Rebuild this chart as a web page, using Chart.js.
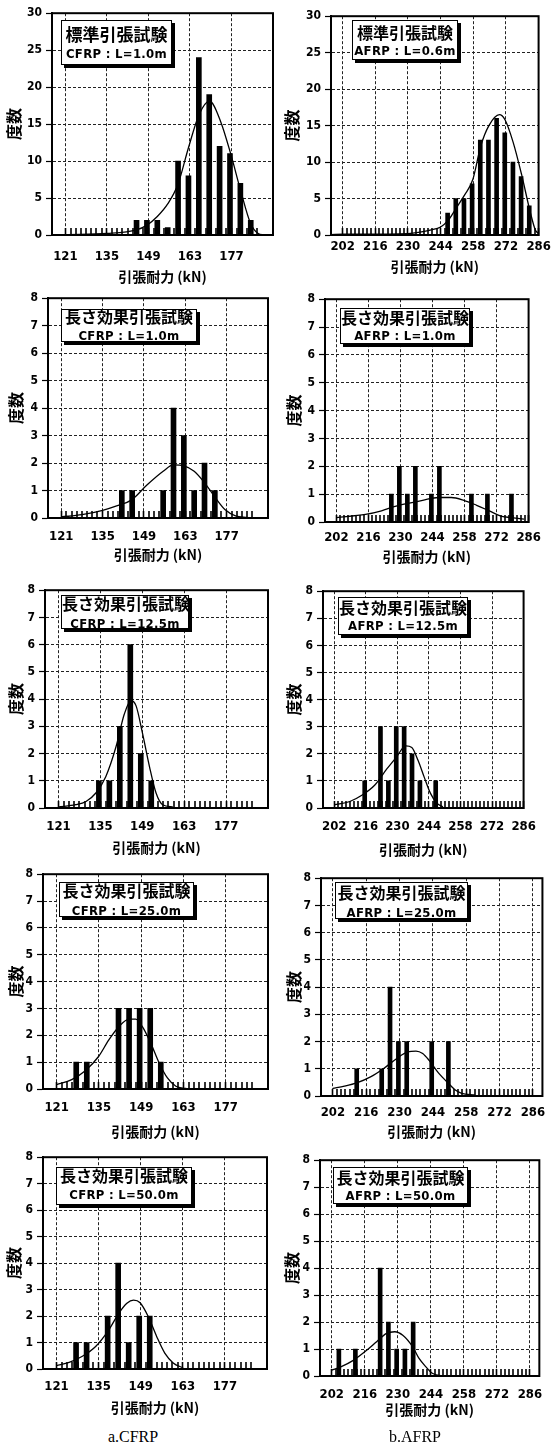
<!DOCTYPE html>
<html lang="ja">
<head>
<meta charset="utf-8">
<title>引張耐力の度数分布</title>
<script src="https://cdn.jsdelivr.net/npm/chart.js@4.4.1/dist/chart.umd.min.js"></script>
<style>
  html, body { margin: 0; padding: 0; background: #fff; }
  #page { position: relative; width: 556px; height: 1447px; overflow: hidden; }
  #page canvas { position: absolute; }
  .legend-box {
    position: absolute; background: #fff; border: 1.5px solid #000;
    box-shadow: 3px 3px 0 #000; box-sizing: border-box;
  }
  .legend-box div {
    position: absolute; left: 0; right: 0; text-align: center;
    transform: translateY(-50%); white-space: nowrap; color: #000;
  }
  .legend-box .l1 { font-family: 'Noto Sans CJK JP', sans-serif; font-weight: 700; line-height: 1.1; }
  .legend-box .l2 { font-family: 'Liberation Sans Narrow', 'DejaVu Sans Condensed', 'Liberation Sans', sans-serif; font-weight: 700; font-size: 13px; letter-spacing: 0.3px; line-height: 1.1; }
  .caption { position: absolute; font-family: 'Liberation Serif', 'DejaVu Serif', serif; font-size: 16px; transform: translate(-50%, -50%); }
</style>
</head>
<body>
<div id="page"></div>
<script>
// ETICHETTE ASSI X
const cfrpTickLabels = [121, 135, 149, 163, 177];
const afrpTickLabels = [202, 216, 230, 244, 258, 272, 286];
// trattini sull'asse x (ogni mezza classe)
const cfrpStubRange = [121, 187];
const afrpStubRange = [202, 285];
const stubStep = 1.75;

// 1) 標準引張試験 CFRP L=1.0m
const p1BinX = [145, 148.5, 152, 155.5, 159, 162.5, 166, 169.5, 173, 176.5, 180, 183.5];
const p1Count = [2, 2, 2, 1, 10, 8, 24, 19, 12, 11, 7, 2];
const p1CurveX = [117, 121, 135, 145, 148.4, 152, 155.5, 159, 162.5, 166.1, 169.6, 173.3, 176.8, 180.1, 183.4, 186, 188];
const p1CurveY = [0, 0.05, 0.2, 0.7, 1.3, 2.5, 4.2, 6.9, 11.8, 16.3, 18.1, 15.4, 10.9, 6, 1.6, 0.2, 0];

// 2) 標準引張試験 AFRP L=0.6m
const p2BinX = [247, 250.5, 254, 257.5, 261, 264.5, 268, 271.5, 275, 278.5, 282];
const p2Count = [3, 5, 5, 7, 13, 13, 16, 14, 10, 8, 4];
const p2CurveX = [197, 202, 230, 240, 244, 247.2, 250.9, 254.3, 257.8, 261.2, 264.7, 269.2, 271.6, 275.1, 278.7, 282.3, 284.6, 286];
const p2CurveY = [0.05, 0.1, 0.2, 0.7, 1.1, 2, 3.8, 5.5, 7.6, 12.2, 15, 16.5, 15.8, 12.7, 8.3, 3.3, 0.7, 0.2];

// 3) 長さ効果 CFRP L=1.0m
const p3BinX = [141.5, 145, 155.5, 159, 162.5, 166, 169.5, 173];
const p3Count = [1, 1, 1, 4, 3, 1, 2, 1];
const p3CurveX = [121, 128, 135, 140, 144.7, 150, 155.5, 159, 162.5, 166, 169.6, 172.9, 176.5, 180, 184];
const p3CurveY = [0.04, 0.12, 0.28, 0.45, 0.65, 1.2, 1.7, 1.93, 1.9, 1.7, 1.27, 0.78, 0.3, 0.08, 0.02];

// 4) 長さ効果 AFRP L=1.0m
const p4BinX = [226, 229.5, 233, 236.5, 243.5, 247, 261, 268, 278.5];
const p4Count = [1, 2, 1, 2, 1, 2, 1, 1, 1];
const p4CurveX = [202, 214.7, 221.7, 227.2, 232.7, 239.7, 246.6, 252.2, 257.7, 263.3, 268.8, 274.3, 278.5, 284];
const p4CurveY = [0.16, 0.27, 0.4, 0.55, 0.66, 0.78, 0.88, 0.88, 0.78, 0.6, 0.4, 0.2, 0.16, 0.1];

// 5) 長さ効果 CFRP L=12.5m
const p5BinX = [134.5, 138, 141.5, 145, 148.5, 152];
const p5Count = [1, 1, 3, 6, 2, 1];
const p5CurveX = [121, 126.8, 130.2, 133.5, 136.8, 140.2, 143, 145.2, 146.9, 149.1, 151.4, 153.6, 155.8, 159.2];
const p5CurveY = [0.04, 0.12, 0.24, 0.55, 1.15, 2.24, 3.45, 3.94, 3.76, 2.73, 1.52, 0.55, 0.12, 0.04];

// 6) 長さ効果 AFRP L=12.5m
const p6BinX = [215.5, 222.5, 226, 229.5, 233, 236.5, 240, 247];
const p6Count = [1, 3, 1, 3, 3, 2, 1, 1];
const p6CurveX = [202, 208.9, 214.4, 219.9, 225.4, 229.5, 233.7, 236.4, 239.2, 241.9, 244.7, 247.5, 250.2];
const p6CurveY = [0.12, 0.24, 0.48, 0.84, 1.45, 1.87, 2.29, 2.23, 1.75, 1.14, 0.54, 0.18, 0.04];

// 7) 長さ効果 CFRP L=25.0m
const p7BinX = [127.5, 131, 141.5, 145, 148.5, 152, 155.5];
const p7Count = [1, 1, 3, 3, 3, 3, 1];
const p7CurveX = [121, 126, 130.5, 134.9, 138.3, 141.6, 145, 147.2, 149.4, 152.2, 155, 157.7, 160.5, 163.9];
const p7CurveY = [0.16, 0.35, 0.68, 1.21, 1.83, 2.32, 2.6, 2.6, 2.32, 1.7, 0.96, 0.41, 0.1, 0.02];

// 8) 長さ効果 AFRP L=25.0m
const p8BinX = [212, 222.5, 226, 229.5, 233, 243.5, 250.5];
const p8Count = [1, 1, 4, 2, 2, 2, 2];
const p8CurveX = [202, 206.8, 212.3, 217.8, 223.2, 228.7, 233.4, 236.9, 239.7, 242.4, 246.5, 249.9, 253.4, 256.1, 261.6];
const p8CurveY = [0.28, 0.36, 0.49, 0.7, 1.0, 1.37, 1.62, 1.65, 1.56, 1.31, 0.83, 0.52, 0.22, 0.1, 0.04];

// 9) 長さ効果 CFRP L=50.0m
const p9BinX = [127.5, 131, 138, 141.5, 145, 148.5, 152];
const p9Count = [1, 1, 2, 4, 1, 2, 2];
const p9CurveX = [121, 125.2, 129.6, 134, 138.4, 141.7, 144.4, 146.6, 148.8, 151.5, 154.3, 157, 159.8, 163.1];
const p9CurveY = [0.13, 0.25, 0.48, 0.85, 1.48, 2.1, 2.48, 2.6, 2.5, 1.98, 1.23, 0.6, 0.23, 0.04];

// 10) 長さ効果 AFRP L=50.0m
const p10BinX = [205, 212, 222.5, 226, 229.5, 233, 236.5];
const p10Count = [1, 1, 4, 2, 1, 1, 2];
const p10CurveX = [202, 205.8, 211.3, 216.9, 221, 225.2, 228.7, 232.1, 236.3, 239, 241.9, 244.6, 248.8];
const p10CurveY = [0.22, 0.34, 0.59, 0.96, 1.27, 1.58, 1.64, 1.51, 1.08, 0.65, 0.34, 0.1, 0];

const STD = '標準引張試験';
const LEN = '長さ効果引張試験';

// LAYOUT DEI PANNELLI (area del grafico in px della pagina)
const panels = [
  { kind: 'c', binX: p1BinX, count: p1Count, cx: p1CurveX, cy: p1CurveY, yMax: 30, yStep: 5, xMax: 191,
    area: [52, 12, 273, 235], labelOff: 22, titleOff: 42, yTitleX: 13,
    box: [61, 20, 175, 68, 33, 53, 17], t1: STD, t2: 'CFRP : L=1.0m' },
  { kind: 'a', binX: p2BinX, count: p2Count, cx: p2CurveX, cy: p2CurveY, yMax: 30, yStep: 5, xMax: 286,
    area: [331, 15, 546, 235], labelOff: 12, titleOff: 32, yTitleX: 291,
    box: [352, 20, 461, 63, 32, 50, 16], t1: STD, t2: 'AFRP : L=0.6m' },
  { kind: 'c', binX: p3BinX, count: p3Count, cx: p3CurveX, cy: p3CurveY, yMax: 8, yStep: 1, xMax: 191,
    area: [48, 297, 268, 518], labelOff: 19, titleOff: 37, yTitleX: 15,
    box: [61, 309, 200, 345, 316, 335, 16], t1: LEN, t2: 'CFRP : L=1.0m' },
  { kind: 'a', binX: p4BinX, count: p4Count, cx: p4CurveX, cy: p4CurveY, yMax: 8, yStep: 1, xMax: 286,
    area: [325, 298, 540, 522], labelOff: 16, titleOff: 35, yTitleX: 293,
    box: [340, 308, 473, 347, 317, 335, 16], t1: LEN, t2: 'AFRP : L=1.0m' },
  { kind: 'c', binX: p5BinX, count: p5Count, cx: p5CurveX, cy: p5CurveY, yMax: 8, yStep: 1, xMax: 191,
    area: [45, 589, 268, 808], labelOff: 19, titleOff: 40, yTitleX: 15,
    box: [61, 595, 192, 632, 603, 623, 16], t1: LEN, t2: 'CFRP : L=12.5m' },
  { kind: 'a', binX: p6BinX, count: p6Count, cx: p6CurveX, cy: p6CurveY, yMax: 8, yStep: 1, xMax: 286,
    area: [323, 590, 538, 808], labelOff: 19, titleOff: 42, yTitleX: 293,
    box: [338, 597, 471, 638, 607, 625, 16], t1: LEN, t2: 'AFRP : L=12.5m' },
  { kind: 'c', binX: p7BinX, count: p7Count, cx: p7CurveX, cy: p7CurveY, yMax: 8, yStep: 1, xMax: 191,
    area: [43, 873, 268, 1089], labelOff: 19, titleOff: 43, yTitleX: 15,
    box: [59, 882, 197, 920, 890, 910, 16], t1: LEN, t2: 'CFRP : L=25.0m' },
  { kind: 'a', binX: p8BinX, count: p8Count, cx: p8CurveX, cy: p8CurveY, yMax: 8, yStep: 1, xMax: 290,
    area: [321, 877, 546, 1096], labelOff: 17, titleOff: 36, yTitleX: 293,
    box: [335, 882, 471, 922, 892, 912, 16], t1: LEN, t2: 'AFRP : L=25.0m' },
  { kind: 'c', binX: p9BinX, count: p9Count, cx: p9CurveX, cy: p9CurveY, yMax: 8, yStep: 1, xMax: 191,
    area: [43, 1156, 267, 1369], labelOff: 18, titleOff: 39, yTitleX: 13,
    box: [56, 1167, 195, 1208, 1175, 1194, 16], t1: LEN, t2: 'CFRP : L=50.0m' },
  { kind: 'a', binX: p10BinX, count: p10Count, cx: p10CurveX, cy: p10CurveY, yMax: 8, yStep: 1, xMax: 290,
    area: [320, 1159, 545, 1376], labelOff: 19, titleOff: 34, yTitleX: 291,
    box: [333, 1167, 471, 1207, 1177, 1195, 16], t1: LEN, t2: 'AFRP : L=50.0m' }
];

const NUM_FONT = "'Liberation Sans Narrow', 'DejaVu Sans Condensed', 'Liberation Sans', sans-serif";
const CJK_FONT = "'Noto Sans CJK JP', sans-serif";
const page = document.getElementById('page');

// cornice nera intorno all'area del grafico
const framePlugin = {
  id: 'frame',
  afterDraw(chart) {
    const { ctx, chartArea: a } = chart;
    ctx.save();
    ctx.strokeStyle = '#000';
    ctx.lineWidth = 2;
    ctx.strokeRect(a.left, a.top, a.right - a.left, a.bottom - a.top);
    ctx.restore();
  }
};

function stubTicks(range, majors) {
  const vals = new Set(majors);
  for (let v = range[0]; v <= range[1] + 1e-9; v += stubStep) vals.add(Math.round(v * 100) / 100);
  return [...vals].sort((a, b) => a - b);
}

function buildPanel(p) {
  const isC = p.kind === 'c';
  const majors = isC ? cfrpTickLabels : afrpTickLabels;
  const tickVals = stubTicks(isC ? cfrpStubRange : afrpStubRange, majors);
  const xMin = isC ? 116.5 : 197;

  const padTop = 10, padRight = 16;
  const left = p.yTitleX - 9;
  const yAxisW = p.area[0] - left;
  const areaW = p.area[2] - p.area[0];
  const areaH = p.area[3] - p.area[1];
  const xAxisH = p.titleOff + 8;

  const canvas = document.createElement('canvas');
  canvas.width = yAxisW + areaW + padRight;
  canvas.height = padTop + areaH + xAxisH;
  canvas.style.width = canvas.width + 'px';
  canvas.style.height = canvas.height + 'px';
  canvas.style.left = left + 'px';
  canvas.style.top = (p.area[1] - padTop) + 'px';
  page.appendChild(canvas);

  new Chart(canvas, {
    type: 'bar',
    data: {
      datasets: [
        {
          type: 'line',
          data: p.cx.map((x, i) => ({ x, y: p.cy[i] })),
          borderColor: '#000', borderWidth: 1.3, pointRadius: 0,
          cubicInterpolationMode: 'monotone', fill: false, order: 0
        },
        {
          type: 'bar',
          data: p.binX.map((x, i) => ({ x, y: p.count[i] })),
          backgroundColor: '#000', borderWidth: 0,
          barThickness: isC ? 5 : 4, order: 1
        }
      ]
    },
    options: {
      responsive: false, animation: false, devicePixelRatio: 1,
      layout: { padding: { top: padTop, right: padRight, left: 0, bottom: 0 } },
      plugins: { legend: { display: false }, tooltip: { enabled: false } },
      scales: {
        x: {
          type: 'linear', min: xMin, max: p.xMax, offset: false,
          afterBuildTicks: axis => { axis.ticks = tickVals.map(v => ({ value: v })); },
          afterFit: axis => { axis.height = xAxisH; },
          ticks: {
            autoSkip: false, maxRotation: 0, color: '#000', padding: p.labelOff - 0.8,
            font: { family: NUM_FONT, size: 13, weight: 'bold' },
            callback: v => majors.includes(v) ? String(v) : ''
          },
          grid: {
            offset: false, drawTicks: true, tickLength: -7,
            color: '#222', tickColor: '#000', tickWidth: 1.6,
            lineWidth: ctx => (ctx.tick && majors.includes(ctx.tick.value)) ? 1 : 0
          },
          border: { display: true, color: '#000', width: 2, dash: [3, 2] },
          title: {
            display: true, text: '引張耐力 (kN)', color: '#000', padding: 0,
            font: { family: CJK_FONT, size: 14, weight: 'bold' }
          }
        },
        y: {
          min: 0, max: p.yMax,
          afterFit: axis => { axis.width = yAxisW; },
          ticks: {
            stepSize: p.yStep, color: '#000', padding: 4,
            font: { family: NUM_FONT, size: 12, weight: 'bold' }
          },
          grid: { color: '#222', lineWidth: 1, tickLength: 6, tickColor: '#000', tickWidth: 1.2 },
          border: { display: true, color: '#000', width: 2, dash: [3, 2] },
          title: {
            display: true, text: '度数', color: '#000', padding: 0,
            font: { family: CJK_FONT, size: 16, weight: 'bold' }
          }
        }
      }
    },
    plugins: [framePlugin]
  });
}

function buildBox(p) {
  const [l, t, r, b, c1, c2, fs] = p.box;
  const box = document.createElement('div');
  box.className = 'legend-box';
  box.style.left = l + 'px';
  box.style.top = t + 'px';
  box.style.width = (r - l - 3) + 'px';
  box.style.height = (b - t - 3) + 'px';
  box.innerHTML = `
    <div class="l1" style="top:${c1 - t}px; font-size:${fs}px;">${p.t1}</div>
    <div class="l2" style="top:${c2 - t}px;">${p.t2}</div>`;
  page.appendChild(box);
}

panels.forEach(buildPanel);
panels.forEach(buildBox);

// didascalie in basso
[['a.CFRP', 133, 1437], ['b.AFRP', 415, 1437]].forEach(([text, x, y]) => {
  const d = document.createElement('div');
  d.className = 'caption';
  d.style.left = x + 'px';
  d.style.top = y + 'px';
  d.textContent = text;
  page.appendChild(d);
});
</script>
</body>
</html>
